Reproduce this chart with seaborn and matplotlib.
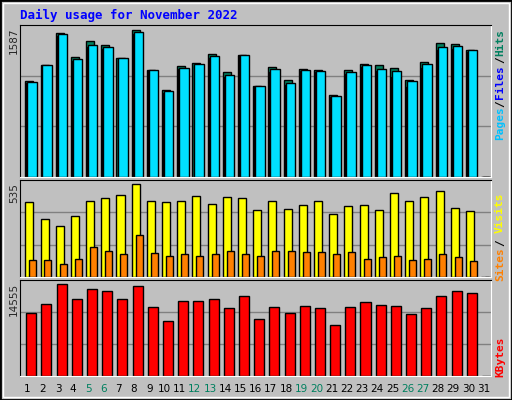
import numpy as np
import matplotlib
matplotlib.use("Agg")
import matplotlib.pyplot as plt
import seaborn as sns
from matplotlib.patches import Rectangle

days = [str(d) for d in range(1, 32)]
weekends = [5, 6, 12, 13, 19, 20, 26, 27]

hits = [1033, 1203, 1548, 1289, 1462, 1419, 1279, 1587, 1149, 936, 1192, 1228, 1322, 1131, 1311,
        976, 1181, 1041, 1160, 1149, 879, 1149, 1214, 1203, 1171, 1041, 1235, 1441, 1430, 1365, 0]
files = [1022, 1203, 1537, 1268, 1419, 1397, 1279, 1559, 1149, 922, 1171, 1214, 1300, 1095, 1311,
         976, 1160, 1008, 1149, 1138, 868, 1127, 1203, 1160, 1138, 1030, 1214, 1397, 1408, 1365, 0]
pages = [1010, 1190, 1520, 1250, 1400, 1380, 1260, 1540, 1140, 910, 1160, 1200, 1280, 1080, 1300,
         965, 1130, 995, 1140, 1130, 860, 1110, 1190, 1140, 1080, 970, 1170, 1370, 1380, 1350, 0]
visits = [431, 332, 292, 350, 436, 454, 471, 535, 436, 431, 436, 465, 419, 460, 454,
          384, 436, 390, 413, 436, 361, 407, 413, 384, 483, 436, 460, 494, 396, 378, 0]
sites = [95, 95, 77, 106, 170, 147, 129, 239, 135, 118, 129, 118, 129, 147, 129,
         118, 147, 147, 141, 141, 129, 141, 106, 112, 118, 100, 106, 129, 112, 89, 0]
kbytes = [9933, 11368, 14555, 12164, 13758, 13439, 12164, 14236, 10890, 8659, 11846, 11846, 12164, 10730, 12643,
          8977, 10890, 9933, 11049, 10730, 8021, 10890, 11686, 11208, 11049, 9774, 10730, 12643, 13439, 13121, 0]

sns.set_style("white")
plt.rcParams["font.family"] = ["DejaVu Sans"]
grey = "#C0C0C0"

fig = plt.figure(figsize=(5.12, 4.0), dpi=100, facecolor=grey)
x = np.arange(31)


def panel(bottom, height, ymax):
    ax = fig.add_axes([20 / 512, bottom, 471 / 512, height])
    ax.set_facecolor(grey)
    ax.set_xlim(-0.5, 30.5)
    ax.set_ylim(0, ymax)
    for f in (1 / 3, 2 / 3):
        ax.axhline(ymax * f, color="#808080", lw=1, zorder=0)
    ax.set_xticks([])
    ax.set_yticks([])
    for s in ("left", "top"):
        ax.spines[s].set_color("black")
    for s in ("right", "bottom"):
        ax.spines[s].set_color("white")
    return ax


def bars(ax, vals, off, width, color):
    ax.bar(x + off, vals, width=width, align="edge", color=color,
           edgecolor="black", linewidth=1, zorder=2)


ax1 = panel(1 - 177 / 400, 152 / 400, 1587 * 151.7 / 147)
bars(ax1, hits, -0.15, 0.53, "#00805F")
bars(ax1, pages, -0.08, 0.5, "#0000FF")
bars(ax1, files, -0.02, 0.62, "#00E0FF")

ax2 = panel(1 - 277 / 400, 97 / 400, 535 * 96 / 92.4)
bars(ax2, visits, -0.15, 0.53, "#FFFF00")
bars(ax2, sites, 0.11, 0.46, "#FF8000")

ax3 = panel(1 - 376 / 400, 96 / 400, 14555 * 95 / 91.3)
bars(ax3, kbytes, -0.09, 0.66, "#FF0000")

for i, d in enumerate(days):
    c = "#00805F" if int(d) in weekends else "black"
    fig.text((20 + 15.2 * (i + 0.5)) / 512, 1 - 389 / 400, d, ha="center", va="center",
             fontsize=7.5, color=c)

fig.text(20 / 512, 1 - 15 / 400, "Daily usage for November 2022", color="#0000FF",
         family="DejaVu Sans Mono", fontweight="bold", fontsize=9, va="center")

for y, t in [(28, "1587"), (183, "535"), (283, "14555")]:
    fig.text(14 / 512, 1 - y / 400, t, rotation=90, ha="center", va="top", fontsize=7.5)

mono = dict(rotation=90, ha="center", va="center", family="DejaVu Sans Mono",
            fontsize=8, fontweight="bold")
for y, t, c in [(42, "Hits", "#00805F"), (60, "/", "black"), (82, "Files", "#0000FF"),
                (104, "/", "black"), (123, "Pages", "#00C0FF"),
                (213, "Visits", "#FFFF00"), (243, "/", "black"), (264, "Sites", "#FF8000"),
                (357, "KBytes", "#FF0000")]:
    fig.text(500 / 512, 1 - y / 400, t, color=c, **mono)

# outer bevelled frame
fig.patches.append(Rectangle((0, 0), 1, 1, transform=fig.transFigure, fill=False,
                             edgecolor="black", lw=2))
fig.patches.append(Rectangle((3 / 512, 3 / 400), 506 / 512, 394 / 400, transform=fig.transFigure,
                             fill=False, edgecolor="white", lw=1))

fig.savefig("out.png", dpi=100, facecolor=grey)
